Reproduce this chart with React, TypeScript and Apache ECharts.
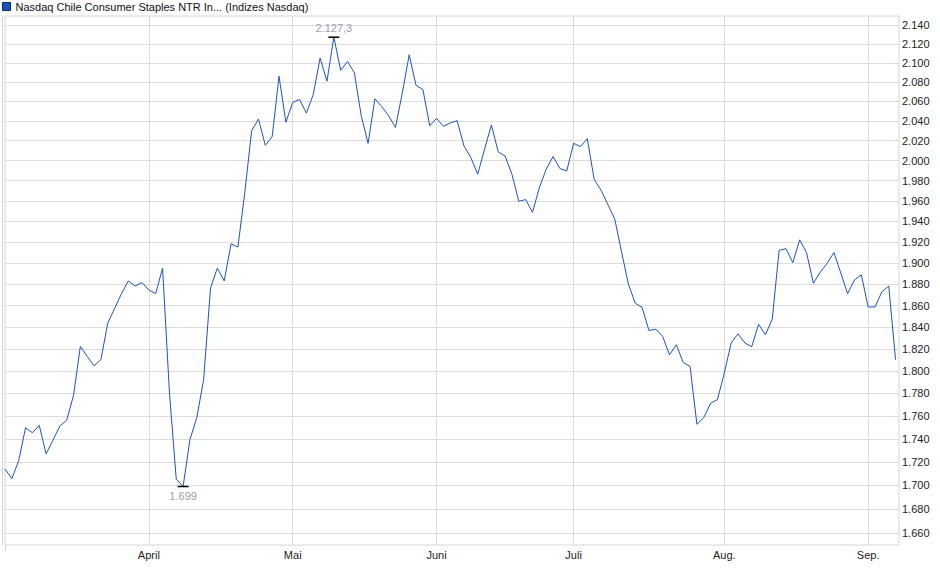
import React, { useEffect, useRef } from 'react';
import * as echarts from 'echarts';

const seriesName = 'Nasdaq Chile Consumer Staples NTR In... (Indizes Nasdaq)';

// trading days per month shown on the x axis
const monthNames = ['März', 'April', 'Mai', 'Juni', 'Juli', 'Aug.', 'Sep.'];
const monthDays = [21, 21, 21, 20, 22, 21, 5];

// daily closes
const closes = [
  1714.0, 1705.7, 1721.1, 1749.7, 1745.3, 1751.8, 1727.0, 1738.8, 1751.2, 1756.2,
  1778.2, 1822.4, 1813.3, 1804.8, 1810.3, 1843.6, 1857.3, 1871.1, 1883.1, 1878.3,
  1881.5, 1874.6, 1871.1, 1895.2, 1781.2, 1705.2, 1699.0, 1739.4, 1758.6, 1792.6,
  1876.5, 1895.2, 1883.1, 1918.4, 1915.3, 1968.0, 2029.9, 2042.0, 2015.3, 2024.1,
  2086.2, 2038.7, 2059.0, 2062.1, 2048.0, 2067.3, 2105.2, 2081.0, 2127.3, 2092.4,
  2101.7, 2089.7, 2045.3, 2017.3, 2062.8, 2054.7, 2045.3, 2033.5, 2069.0, 2108.6,
  2076.6, 2072.4, 2035.1, 2042.7, 2034.5, 2038.0, 2040.3, 2014.6, 2003.0, 1986.3,
  2011.3, 2035.9, 2008.6, 2004.6, 1986.3, 1959.6, 1961.3, 1948.8, 1973.0, 1991.3,
  2004.0, 1992.0, 1989.6, 2017.3, 2014.0, 2022.1, 1981.3, 1970.6, 1956.5, 1942.5,
  1910.7, 1880.0, 1862.2, 1858.2, 1836.9, 1838.2, 1831.5, 1814.8, 1823.9, 1807.8,
  1804.2, 1752.7, 1758.6, 1771.3, 1774.5, 1798.3, 1825.5, 1833.9, 1825.5, 1822.1,
  1842.7, 1833.0, 1847.5, 1912.1, 1913.7, 1900.4, 1922.2, 1910.0, 1880.9, 1891.3,
  1899.7, 1910.0, 1890.6, 1871.1, 1884.0, 1888.8, 1858.7, 1858.7, 1872.9, 1878.3,
  1810.3,
];

const yTicks = [
  1660, 1680, 1700, 1720, 1740, 1760, 1780, 1800, 1820, 1840, 1860, 1880, 1900,
  1920, 1940, 1960, 1980, 2000, 2020, 2040, 2060, 2080, 2100, 2120, 2140,
];

const font = '"Liberation Sans", Arial, sans-serif';

const fmtDe = (v: number, d = 0) => {
  const [int, frac] = v.toFixed(d).split('.');
  const withSep = int.replace(/\B(?=(\d{3})+(?!\d))/g, '.');
  return frac ? withSep + ',' + frac : withSep;
};

// index of the first trading day of each labelled month
const monthStarts: number[] = [];
const startLabel: Record<number, string> = {};
let dayCount = 0;
monthNames.forEach((m, mi) => {
  if (mi > 0) {
    monthStarts.push(dayCount);
    startLabel[dayCount] = m;
  }
  dayCount += monthDays[mi];
});

const App: React.FC = () => {
  const chartRef = useRef<HTMLDivElement>(null);

  useEffect(() => {
    if (!chartRef.current) return;
    const chart = echarts.init(chartRef.current, undefined, { renderer: 'svg' });

    const option: echarts.EChartsOption = {
      animation: false,
      textStyle: { fontFamily: font },
      legend: {
        left: 2,
        top: 1,
        padding: 0,
        icon: 'rect',
        itemWidth: 8,
        itemHeight: 8,
        itemStyle: { borderColor: '#0b2c70', borderWidth: 1 },
        textStyle: { fontSize: 11, color: '#111', fontFamily: font },
        data: [seriesName],
      },
      grid: {
        left: 5,
        right: 41,
        top: 16,
        bottom: 34,
        show: true,
        borderColor: '#d6d6d6',
        borderWidth: 1,
      },
      graphic: [
        {
          type: 'line',
          shape: { x1: 2.5, y1: 16, x2: 2.5, y2: 545 },
          style: { stroke: '#d6d6d6', lineWidth: 1 },
        },
        {
          type: 'line',
          shape: { x1: 5.5, y1: 545, x2: 5.5, y2: 551 },
          style: { stroke: '#cfcfcf', lineWidth: 1 },
        },
      ],
      xAxis: {
        type: 'value',
        min: 0,
        max: dayCount - 0.5,
        axisLine: { show: false },
        axisTick: { show: false, customValues: monthStarts },
        axisLabel: {
          customValues: monthStarts,
          formatter: (v: number) => startLabel[v] ?? '',
          fontSize: 11,
          color: '#222',
          margin: 4,
          fontFamily: font,
        },
        splitLine: { show: true, lineStyle: { color: '#dcdcdc', width: 1 } },
      } as any,
      yAxis: {
        type: 'log',
        logBase: 10,
        position: 'right',
        min: 1650,
        max: 2150,
        axisLine: { show: false },
        axisTick: { show: false, customValues: yTicks },
        axisLabel: {
          customValues: yTicks,
          formatter: (v: number) => fmtDe(v),
          fontSize: 11,
          color: '#222',
          margin: 3,
          fontFamily: font,
        },
        splitLine: { show: true, lineStyle: { color: '#dcdcdc', width: 1 } },
      } as any,
      series: [
        {
          name: seriesName,
          type: 'line',
          data: closes.map((v, i) => [i, v]),
          symbol: 'none',
          lineStyle: { color: '#1b54c2', width: 1 },
          itemStyle: { color: '#1a4fbf' },
          markPoint: {
            symbol: 'rect',
            symbolSize: [11, 1.5],
            itemStyle: { color: '#000' },
            label: { show: true, color: '#9aa0aa', fontSize: 11, fontFamily: font },
            data: [
              {
                type: 'max',
                label: { position: 'top', distance: 3, formatter: (p: any) => fmtDe(p.value, 1) },
              },
              {
                type: 'min',
                label: { position: 'bottom', distance: 3, formatter: (p: any) => fmtDe(p.value) },
              },
            ],
          },
        },
      ],
    };

    chart.setOption(option);

    return () => {
      chart.dispose();
    };
  }, []);

  return (
    <div
      ref={chartRef}
      style={{ position: 'absolute', left: 0, top: 0, width: '940px', height: '579px' }}
    />
  );
};

export default App;
